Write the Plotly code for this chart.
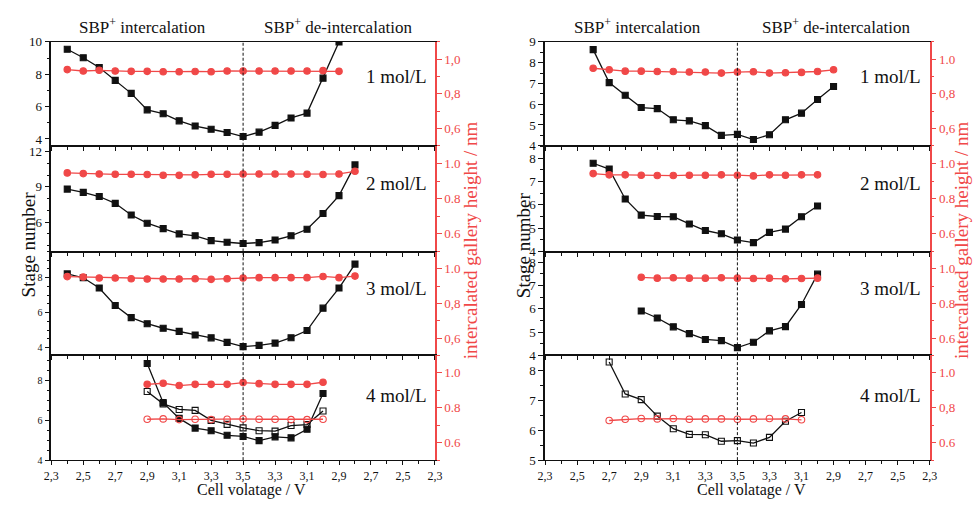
import plotly.graph_objects as go

# ---------------- data ----------------
# sweep: 2.3 -> 3.5 (intercalation) -> 2.3 (de-intercalation), step 0.1 V
SWEEP_V = [2.3, 2.4, 2.5, 2.6, 2.7, 2.8, 2.9, 3.0, 3.1, 3.2, 3.3, 3.4, 3.5,
           3.4, 3.3, 3.2, 3.1, 3.0, 2.9, 2.8, 2.7, 2.6, 2.5, 2.4, 2.3]
TICK_TEXT = ["2,3", "2,5", "2,7", "2,9", "3,1", "3,3", "3,5",
             "3,3", "3,1", "2,9", "2,7", "2,5", "2,3"]
TURN_INDEX = 12  # 3.5 V turning point
CONC = ["1 mol/L", "2 mol/L", "3 mol/L", "4 mol/L"]

# Left figure: start index along sweep for each panel
L_START = [1, 1, 1, 6]
L_STAGE = [
    [9.55, 9.02, 8.42, 7.62, 6.82, 5.80, 5.56, 5.12, 4.80, 4.60, 4.40, 4.15, 4.42, 4.84, 5.30, 5.60, 7.76, 10.0],
    [8.81, 8.53, 8.18, 7.60, 6.61, 5.91, 5.45, 5.00, 4.84, 4.43, 4.29, 4.18, 4.26, 4.48, 4.84, 5.39, 6.74, 8.26, 10.87],
    [8.22, 8.00, 7.41, 6.41, 5.72, 5.37, 5.11, 4.93, 4.72, 4.56, 4.30, 4.06, 4.13, 4.26, 4.57, 4.98, 6.26, 7.41, 8.78],
    [8.86, 6.89, 6.10, 5.61, 5.48, 5.25, 5.19, 4.98, 5.17, 5.12, 5.55, 7.35],
]
L_GALLERY = [
    [0.940, 0.932, 0.936, 0.932, 0.930, 0.930, 0.928, 0.928, 0.929, 0.928, 0.932, 0.932, 0.932, 0.932, 0.932, 0.932, 0.934, 0.930],
    [0.946, 0.942, 0.940, 0.938, 0.938, 0.937, 0.933, 0.932, 0.935, 0.938, 0.938, 0.940, 0.940, 0.940, 0.940, 0.938, 0.937, 0.940, 0.955],
    [0.955, 0.953, 0.947, 0.947, 0.943, 0.941, 0.941, 0.941, 0.943, 0.939, 0.943, 0.947, 0.949, 0.949, 0.949, 0.949, 0.956, 0.949, 0.958],
    [0.934, 0.940, 0.927, 0.934, 0.934, 0.934, 0.944, 0.938, 0.934, 0.934, 0.934, 0.946],
]
L4_STAGE_OPEN = [7.45, 6.83, 6.55, 6.50, 6.00, 5.80, 5.62, 5.48, 5.46, 5.74, 5.79, 6.47]
L4_GALLERY_OPEN = [0.734, 0.736, 0.732, 0.734, 0.732, 0.734, 0.736, 0.734, 0.734, 0.732, 0.732, 0.734]

# Right figure
R_START = [3, 3, 6, 4]
R_STAGE = [
    [8.63, 7.04, 6.43, 5.84, 5.79, 5.25, 5.20, 4.97, 4.50, 4.55, 4.30, 4.53, 5.25, 5.57, 6.23, 6.85],
    [7.78, 7.53, 6.25, 5.56, 5.50, 5.49, 5.18, 4.90, 4.76, 4.49, 4.38, 4.82, 4.96, 5.49, 5.95],
    [5.90, 5.60, 5.22, 4.93, 4.68, 4.63, 4.33, 4.56, 5.05, 5.23, 6.18, 7.48],
    None,
]
R_GALLERY = [
    [0.948, 0.939, 0.931, 0.931, 0.929, 0.929, 0.926, 0.926, 0.920, 0.926, 0.928, 0.920, 0.922, 0.924, 0.929, 0.939],
    [0.942, 0.935, 0.935, 0.933, 0.931, 0.931, 0.933, 0.933, 0.935, 0.933, 0.929, 0.935, 0.933, 0.935, 0.935],
    [0.951, 0.946, 0.948, 0.946, 0.946, 0.948, 0.946, 0.944, 0.946, 0.942, 0.944, 0.946],
    None,
]
R4_STAGE_OPEN = [8.28, 7.21, 7.02, 6.47, 6.05, 5.86, 5.85, 5.63, 5.65, 5.57, 5.76, 6.30, 6.59]
R4_GALLERY_OPEN = [0.727, 0.734, 0.738, 0.736, 0.738, 0.734, 0.736, 0.736, 0.734, 0.736, 0.738, 0.736, 0.731]

# axis tick settings per panel
L_YRANGE = [[3.58, 10], [3.5, 12.5], [3.56, 9.5], [4, 9.27]]
L_YTICKS = [[4, 6, 8, 10], [6, 9, 12], [4, 6, 8], [4, 6, 8]]
R_YRANGE = [[4, 9], [4, 8.53], [4, 8.45], [5, 8.5]]
R_YTICKS = [[4, 5, 6, 7, 8, 9], [4, 5, 6, 7, 8], [4, 5, 6, 7, 8], [5, 6, 7, 8]]
G_RANGE = [0.5, 1.1]
G_TICKS = [0.6, 0.8, 1.0]
L_GTEXT = [["0,6", "0,8", "1,0"], ["0.6", "0.8", "1.0"], ["0,6", "0,8", "1.0"], ["0.6", "0.8", "1.0"]]
R_GTEXT = [["0,6", "0,8", "1.0"], ["0.6", "0.8", "1.0"], ["0.6", "0.8", "1.0"], ["0.6", "0,8", "1.0"]]

# ---------------- styling ----------------
FONT = "Liberation Serif"
RED = "#f04848"
BLACK = "#111111"
W, H = 980, 505
X_DOM = [[44 / W, 434 / W], [546 / W, 937 / W]]
PANEL_PX = [(36, 143), (143, 252), (252, 359), (359, 467)]
Y_DOM = [[1 - b / H, 1 - t / H] for t, b in PANEL_PX]

fig = go.Figure()
layout = {}
shapes = []
annotations = []

tickpos = list(range(0, len(SWEEP_V), 2))


def xs(start, n):
    return list(range(start, start + n))


def add_series(xref, yref, start, vals, symbol, color, size):
    fig.add_trace(go.Scatter(
        x=xs(start, len(vals)), y=vals, xaxis=xref, yaxis=yref,
        mode="lines+markers", line=dict(color=color, width=1.3),
        marker=dict(symbol=symbol, size=size, color=color, line=dict(width=1.1, color=color)),
        showlegend=False))


def note(text, px, py, size, color=BLACK, angle=0, yanchor="middle"):
    annotations.append(dict(text=text, x=px / W, y=1 - py / H, xref="paper", yref="paper",
                            showarrow=False, xanchor="center", yanchor=yanchor, textangle=angle,
                            borderpad=0,
                            font=dict(family=FONT, size=size, color=color)))


for c in range(2):
    for p in range(4):
        k = c * 4 + p
        xi = k + 1
        yl = 2 * k + 1
        yr = 2 * k + 2
        xref = f"x{xi}" if xi > 1 else "x"
        ylref = f"y{yl}" if yl > 1 else "y"
        yrref = f"y{yr}"
        layout["xaxis" + (str(xi) if xi > 1 else "")] = dict(
            domain=X_DOM[c], anchor=ylref,
            range=[0, len(SWEEP_V) - 1], tickmode="array", tickvals=tickpos,
            ticktext=TICK_TEXT, showticklabels=(p == 3),
            ticks="outside", ticklen=4, tickwidth=1, tickcolor=BLACK,
            minor=dict(dtick=1, tick0=0, ticks="outside", ticklen=3, tickcolor=BLACK),
            showline=True, linecolor=BLACK, linewidth=1.2, mirror=True,
            showgrid=False, zeroline=False,
            tickfont=dict(family=FONT, size=12, color=BLACK),
        )
        yrange = L_YRANGE[p] if c == 0 else R_YRANGE[p]
        yticks = L_YTICKS[p] if c == 0 else R_YTICKS[p]
        small = (c == 0 and p >= 2)
        minor_dt = 1 if (c == 0 and p < 2) else 0.5
        layout["yaxis" + (str(yl) if yl > 1 else "")] = dict(
            domain=Y_DOM[p], anchor=xref,
            range=yrange, tickmode="array", tickvals=yticks,
            ticktext=[str(v) for v in yticks],
            ticks="outside", ticklen=5, tickwidth=1, tickcolor=BLACK,
            minor=dict(dtick=minor_dt, tick0=0, ticks="outside", ticklen=3, tickcolor=BLACK),
            showline=True, linecolor=BLACK, linewidth=1.5,
            showgrid=False, zeroline=False,
            tickfont=dict(family=FONT, size=10 if small else 13, color=BLACK),
        )
        gtext = L_GTEXT[p] if c == 0 else R_GTEXT[p]
        layout[f"yaxis{yr}"] = dict(
            domain=Y_DOM[p], anchor=xref,
            overlaying=ylref, side="right",
            range=G_RANGE, tickmode="array", tickvals=G_TICKS, ticktext=gtext,
            ticks="outside", ticklen=5, tickwidth=1, tickcolor=RED,
            minor=dict(dtick=0.1, tick0=0, ticks="outside", ticklen=3, tickcolor=RED),
            showline=True, linecolor=RED, linewidth=1.5,
            showgrid=False, zeroline=False,
            tickfont=dict(family=FONT, size=13, color=RED),
        )

        start = (L_START if c == 0 else R_START)[p]
        stage = (L_STAGE if c == 0 else R_STAGE)[p]
        gal = (L_GALLERY if c == 0 else R_GALLERY)[p]
        if stage is not None:
            add_series(xref, ylref, start, stage, "square", BLACK, 6)
        if p == 3:
            add_series(xref, ylref, start, L4_STAGE_OPEN if c == 0 else R4_STAGE_OPEN,
                       "square-open", BLACK, 6)
        if gal is not None:
            add_series(xref, yrref, start, gal, "circle", RED, 6.5)
        if p == 3:
            add_series(xref, yrref, start, L4_GALLERY_OPEN if c == 0 else R4_GALLERY_OPEN,
                       "circle-open", RED, 6.5)

        shapes.append(dict(type="line", xref=xref, yref=f"{ylref} domain",
                           x0=TURN_INDEX, x1=TURN_INDEX, y0=0, y1=1,
                           line=dict(color=BLACK, width=1, dash="3px,2px")))
        cy = [72, 182, 290, 400][p]
        cx = 395 if c == 0 else 897
        note(CONC[p], cx, cy, 19)

# headers and axis titles
for c in range(2):
    note("SBP<sup>+</sup> intercalation", 137 if c == 0 else 640, 20, 17)
    note("SBP<sup>+</sup> de-intercalation", 335 if c == 0 else 842, 20, 17)
    note("Stage number", 21 if c == 0 else 524, 245, 19, angle=-90)
    note("intercalated gallery height / nm", 471 if c == 0 else 970, 240, 19, color=RED, angle=-90)
    note("Cell volatage / V", 248 if c == 0 else 756, 508, 16, yanchor="bottom")

fig.update_layout(
    width=W, height=H, margin=dict(l=0, r=0, t=0, b=0),
    paper_bgcolor="white", plot_bgcolor="white",
    shapes=shapes, annotations=annotations, showlegend=False,
    font=dict(family=FONT),
    **layout,
)

fig.write_html("out.html")
